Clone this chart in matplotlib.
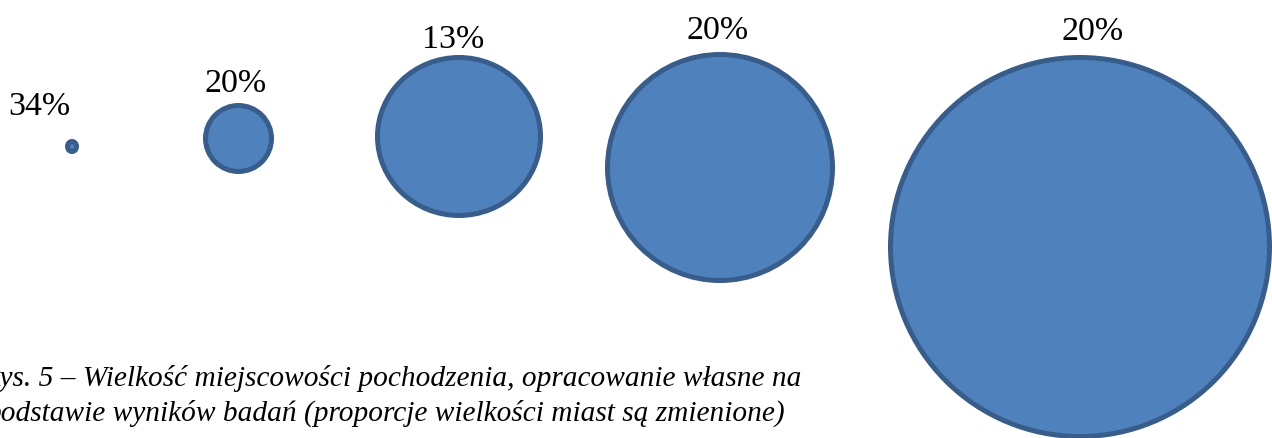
import matplotlib.pyplot as plt
from matplotlib.patches import Ellipse

# bubble data (pixel space of the original picture)
labels = ['34%', '20%', '13%', '20%', '20%']
x_center = [72, 238.5, 459, 720, 1080]
y_center = [146.5, 138.5, 136.5, 167.5, 247]
width = [14, 71, 168, 230, 384]
height = [15, 71, 163, 231, 384]

label_x = [39, 236, 453.5, 718, 1092.5]
label_y = [115, 92, 48, 39, 40]

caption = ['Rys. 5 – Wielkość miejscowości pochodzenia, opracowanie własne na',
           'podstawie wyników badań (proporcje wielkości miast są zmienione)']
caption_x = [-18, -13]
caption_y = [386, 421]

fill = '#4f81bd'
edge = '#385d8a'
lw_px = 5
dpi = 100

fig = plt.figure(figsize=(12.72, 4.38), dpi=dpi)
ax = fig.add_axes([0, 0, 1, 1])
ax.set_xlim(0, 1272)
ax.set_ylim(438, 0)
ax.set_aspect('equal')
ax.axis('off')

for i in range(len(labels)):
    w = width[i] - lw_px
    h = height[i] - lw_px
    ax.add_patch(Ellipse((x_center[i], y_center[i]), w, h,
                         facecolor=fill, edgecolor=edge,
                         linewidth=lw_px * 72 / dpi, clip_on=False))
    ax.text(label_x[i], label_y[i], labels[i], ha='center', va='baseline',
            fontsize=24.5, family='Liberation Serif', color='black')

# caption is cut by the left edge, as in the source image
for line, cx, cy in zip(caption, caption_x, caption_y):
    ax.text(cx, cy, line, ha='left', va='baseline',
            fontsize=21.2, family='Liberation Serif', style='italic',
            color='black', clip_on=False)

fig.savefig('out.png', dpi=dpi)
